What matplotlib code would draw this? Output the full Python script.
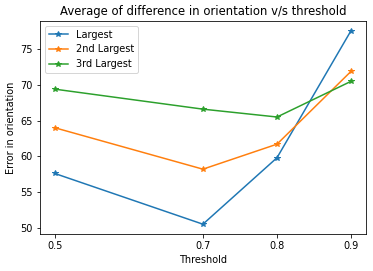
import matplotlib
matplotlib.use("Agg")
import matplotlib.pyplot as plt

thresholds = [0.5, 0.7, 0.8, 0.9]
largest = [57.6, 50.5, 59.8, 77.6]
second_largest = [64.0, 58.2, 61.7, 71.9]
third_largest = [69.4, 66.6, 65.5, 70.5]

plt.rcParams["font.size"] = 9.7

fig = plt.figure(figsize=(373 / 72, 271 / 72), dpi=72)
ax = fig.add_axes([0.107, 0.137, 0.874, 0.786])

ax.plot(thresholds, largest, marker="*", label="Largest")
ax.plot(thresholds, second_largest, marker="*", label="2nd Largest")
ax.plot(thresholds, third_largest, marker="*", label="3rd Largest")

ax.set_xticks(thresholds)
ax.set_xlabel("Threshold")
ax.set_ylabel("Error in orientation")
ax.set_title("Average of difference in orientation v/s threshold")
ax.legend(loc="upper left")

fig.savefig("out.png", dpi=72)
